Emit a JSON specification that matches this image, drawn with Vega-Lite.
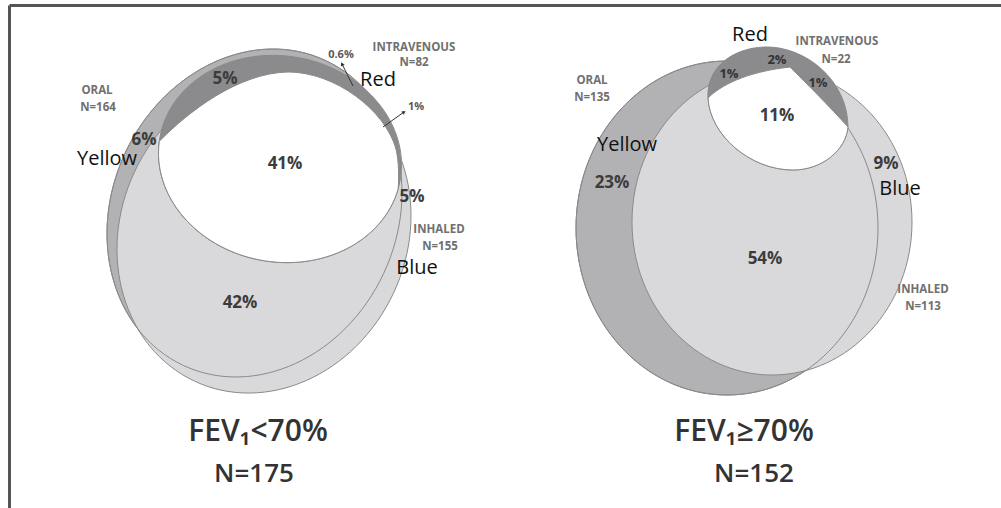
{
  "$schema": "https://vega.github.io/schema/vega-lite/v6.json",
  "width": 991.5,
  "height": 502.5,
  "autosize": "none",
  "padding": {"left": 9.5, "top": 5.5, "right": 0, "bottom": 0},
  "background": "#ffffff",
  "config": {"view": {"stroke": null}},
  "datasets": {
    "sets": [
      {"panel": "FEV1<70%", "kind": "oral", "id": "oral-L", "x": 254.5, "y": 213, "r": 142.6},
      {"panel": "FEV1<70%", "kind": "inhaled", "id": "inhaled-L", "x": 264, "y": 232.5, "r": 143},
      {"panel": "FEV1<70%", "kind": "iv", "id": "iv-L", "x": 280, "y": 159, "r": 100},
      {"panel": "FEV1<70%", "kind": "core", "id": "core-L", "x": 280, "y": 159, "r": 100},
      {"panel": "FEV1>=70%", "kind": "oral", "id": "oral-R", "x": 727, "y": 228, "r": 151},
      {"panel": "FEV1>=70%", "kind": "inhaled", "id": "inhaled-R", "x": 772, "y": 222, "r": 140},
      {"panel": "FEV1>=70%", "kind": "iv", "id": "iv-R", "x": 778, "y": 110, "r": 100},
      {"panel": "FEV1>=70%", "kind": "core", "id": "core-R", "x": 778, "y": 110, "r": 100}
    ],
    "labels": [
      {"text": "5%", "role": "pct", "x": 225, "y": 79},
      {"text": "6%", "role": "pct", "x": 144, "y": 140},
      {"text": "41%", "role": "pct", "x": 285, "y": 164},
      {"text": "5%", "role": "pct", "x": 412, "y": 197},
      {"text": "42%", "role": "pct", "x": 240, "y": 303},
      {"text": "0.6%", "role": "pctXS", "x": 341, "y": 55},
      {"text": "1%", "role": "pctXS", "x": 416, "y": 107},
      {"text": "2%", "role": "pctS", "x": 777, "y": 60},
      {"text": "1%", "role": "pctS", "x": 729, "y": 74},
      {"text": "1%", "role": "pctS", "x": 818, "y": 83},
      {"text": "11%", "role": "pct", "x": 777, "y": 116},
      {"text": "23%", "role": "pct", "x": 612, "y": 183},
      {"text": "9%", "role": "pct", "x": 886, "y": 164},
      {"text": "54%", "role": "pct", "x": 765, "y": 259},
      {"text": "ORAL", "role": "set", "x": 97, "y": 91},
      {"text": "N=164", "role": "set", "x": 98, "y": 108},
      {"text": "INTRAVENOUS", "role": "set", "x": 414, "y": 48},
      {"text": "N=82", "role": "set", "x": 414, "y": 63},
      {"text": "INHALED", "role": "set", "x": 439, "y": 230},
      {"text": "N=155", "role": "set", "x": 440, "y": 247},
      {"text": "ORAL", "role": "set", "x": 592, "y": 81},
      {"text": "N=135", "role": "set", "x": 592, "y": 98},
      {"text": "INTRAVENOUS", "role": "set", "x": 837, "y": 42},
      {"text": "N=22", "role": "set", "x": 836, "y": 60},
      {"text": "INHALED", "role": "set", "x": 923, "y": 290},
      {"text": "N=113", "role": "set", "x": 923, "y": 307},
      {"text": "Red", "role": "color", "x": 378, "y": 80},
      {"text": "Yellow", "role": "color", "x": 107, "y": 159},
      {"text": "Blue", "role": "color", "x": 417, "y": 268},
      {"text": "Red", "role": "color", "x": 750, "y": 35},
      {"text": "Yellow", "role": "color", "x": 627, "y": 145},
      {"text": "Blue", "role": "color", "x": 900, "y": 189},
      {"text": "FEV₁<70%", "role": "title", "x": 258, "y": 432},
      {"text": "N=175", "role": "n", "x": 254, "y": 474},
      {"text": "FEV₁≥70%", "role": "title", "x": 744, "y": 432},
      {"text": "N=152", "role": "n", "x": 754, "y": 474}
    ],
    "arrows": [
      {"label": "0.6%", "x": 353, "y": 86, "x2": 342, "y2": 64},
      {"label": "1%", "x": 383, "y": 127, "x2": 404, "y2": 112}
    ]
  },
  "encoding": {
    "x": {"field": "x", "type": "quantitative", "scale": {"domain": [9.5, 1001], "nice": false, "zero": false},
      "axis": {"orient": "top", "domain": true, "domainColor": "#555555", "domainWidth": 3, "ticks": false, "labels": false, "grid": false, "title": null, "offset": 0, "translate": 0}},
    "y": {"field": "y", "type": "quantitative", "scale": {"domain": [5.5, 508], "nice": false, "zero": false, "reverse": true},
      "axis": {"orient": "left", "domain": true, "domainColor": "#555555", "domainWidth": 3, "ticks": false, "labels": false, "grid": false, "title": null, "offset": 0, "translate": 0}}
  },
  "layer": [
    {
      "data": {"name": "sets"},
      "transform": [{"filter": "datum.kind === 'oral' || datum.kind === 'inhaled'"}],
      "mark": {"type": "point", "filled": true, "opacity": 1, "stroke": "#8a8a8a", "strokeWidth": 1},
      "encoding": {
        "shape": {"field": "id", "type": "nominal", "legend": null, "scale": {
          "domain": ["oral-L", "inhaled-L", "iv-L", "core-L", "oral-R", "inhaled-R", "iv-R", "core-R"],
          "range": [
            "M0.906,0.423A1,1.18,25,0,1,-0.499,1.069A1,1.18,25,0,1,-0.906,-0.423A1,1.18,25,0,1,0.499,-1.069A1,1.18,25,0,1,0.906,0.423Z",
            "M0.906,0.423A1,1.1476,25,0,1,-0.4854,1.0397A1,1.1476,25,0,1,-0.906,-0.423A1,1.1476,25,0,1,0.4854,-1.0397A1,1.1476,25,0,1,0.906,0.423Z",
            "M1.2017,0.2118A1.22,1.03,10,0,1,-0.1792,1.0146A1.22,1.03,10,0,1,-1.2017,-0.2118A1.22,1.03,10,0,1,0.1792,-1.0146A1.22,1.03,10,0,1,1.2017,0.2118Z",
            "M-1.207,-0.177C-0.92,-0.47,-0.42,-0.86,0.08,-0.87C0.55,-0.87,1.05,-0.49,1.16,-0.1C1.19,0.03,1.19,0.19,1.181,0.3A1.22,1.03,10,0,1,-1.207,-0.177Z",
            "M1,0A1,1.106,0,0,1,0,1.106A1,1.106,0,0,1,-1,0A1,1.106,0,0,1,0,-1.106A1,1.106,0,0,1,1,0Z",
            "M1,0A1,1.093,0,0,1,0,1.093A1,1.093,0,0,1,-1,0A1,1.093,0,0,1,0,-1.093A1,1.093,0,0,1,1,0Z",
            "M-0.7,-0.12C-0.72,-0.4,-0.48,-0.62,-0.13,-0.63C0.27,-0.64,0.7,-0.3,0.7,0.17C0.68,0.4,0.44,0.6,0.15,0.6C-0.28,0.6,-0.68,0.25,-0.7,-0.12Z",
            "M-0.7,-0.12C-0.58,-0.24,-0.33,-0.38,0.12,-0.43C0.3,-0.25,0.52,-0.03,0.7,0.17C0.68,0.4,0.44,0.6,0.15,0.6C-0.28,0.6,-0.68,0.25,-0.7,-0.12Z"
          ]}},
        "size": {"field": "r", "type": "quantitative", "legend": null, "scale": {"type": "pow", "exponent": 2, "domain": [0, 200], "range": [0, 160000]}},
        "fill": {"field": "kind", "type": "nominal", "legend": null, "scale": {"domain": ["oral", "inhaled", "iv", "core"], "range": ["#b2b2b4", "#d9d9db", "#8b8b8d", "#ffffff"]}}
      }
    },
    {
      "data": {"name": "sets"},
      "transform": [{"filter": "datum.kind === 'oral'"}],
      "mark": {"type": "point", "filled": false, "opacity": 1, "stroke": "#8a8a8a", "strokeWidth": 1},
      "encoding": {
        "shape": {"field": "id", "type": "nominal", "legend": null},
        "size": {"field": "r", "type": "quantitative", "legend": null}
      }
    },
    {
      "data": {"name": "sets"},
      "transform": [{"filter": "datum.kind === 'iv' || datum.kind === 'core'"}],
      "mark": {"type": "point", "filled": true, "opacity": 1, "stroke": "#8a8a8a", "strokeWidth": 1},
      "encoding": {
        "shape": {"field": "id", "type": "nominal", "legend": null},
        "size": {"field": "r", "type": "quantitative", "legend": null},
        "fill": {"field": "kind", "type": "nominal", "legend": null}
      }
    },
    {
      "data": {"name": "arrows"},
      "mark": {"type": "rule", "color": "#333333", "strokeWidth": 1},
      "encoding": {"x2": {"field": "x2"}, "y2": {"field": "y2"}}
    },
    {
      "data": {"name": "arrows"},
      "transform": [{"filter": "datum.label === '0.6%'"}],
      "mark": {"type": "point", "shape": "triangle-up", "filled": true, "opacity": 1, "color": "#333333", "size": 18, "angle": 334},
      "encoding": {"x": {"field": "x2", "type": "quantitative"}, "y": {"field": "y2", "type": "quantitative"}}
    },
    {
      "data": {"name": "arrows"},
      "transform": [{"filter": "datum.label === '1%'"}],
      "mark": {"type": "point", "shape": "triangle-up", "filled": true, "opacity": 1, "color": "#333333", "size": 18, "angle": 53},
      "encoding": {"x": {"field": "x2", "type": "quantitative"}, "y": {"field": "y2", "type": "quantitative"}}
    },
    {
      "data": {"name": "labels"},
      "transform": [{"filter": "datum.role === 'pct'"}],
      "mark": {"type": "text", "font": "Open Sans", "fontSize": 17, "fontWeight": "bold", "color": "#3c3c3c", "align": "center", "baseline": "middle"},
      "encoding": {"text": {"field": "text"}}
    },
    {
      "data": {"name": "labels"},
      "transform": [{"filter": "datum.role === 'pctS'"}],
      "mark": {"type": "text", "font": "Open Sans", "fontSize": 13, "fontWeight": "bold", "color": "#333333", "align": "center", "baseline": "middle"},
      "encoding": {"text": {"field": "text"}}
    },
    {
      "data": {"name": "labels"},
      "transform": [{"filter": "datum.role === 'pctXS'"}],
      "mark": {"type": "text", "font": "Open Sans", "fontSize": 11, "fontWeight": "bold", "color": "#5a5a5a", "align": "center", "baseline": "middle"},
      "encoding": {"text": {"field": "text"}}
    },
    {
      "data": {"name": "labels"},
      "transform": [{"filter": "datum.role === 'set'"}],
      "mark": {"type": "text", "font": "Open Sans", "fontSize": 11.5, "fontWeight": "bold", "color": "#707070", "align": "center", "baseline": "middle"},
      "encoding": {"text": {"field": "text"}}
    },
    {
      "data": {"name": "labels"},
      "transform": [{"filter": "datum.role === 'color'"}],
      "mark": {"type": "text", "font": "Open Sans", "fontSize": 20, "fontWeight": "normal", "color": "#111111", "align": "center", "baseline": "middle"},
      "encoding": {"text": {"field": "text"}}
    },
    {
      "data": {"name": "labels"},
      "transform": [{"filter": "datum.role === 'title'"}],
      "mark": {"type": "text", "font": "Open Sans", "fontSize": 30, "fontWeight": 600, "color": "#333333", "align": "center", "baseline": "middle"},
      "encoding": {"text": {"field": "text"}}
    },
    {
      "data": {"name": "labels"},
      "transform": [{"filter": "datum.role === 'n'"}],
      "mark": {"type": "text", "font": "Open Sans", "fontSize": 26, "fontWeight": 600, "color": "#333333", "align": "center", "baseline": "middle"},
      "encoding": {"text": {"field": "text"}}
    }
  ]
}
